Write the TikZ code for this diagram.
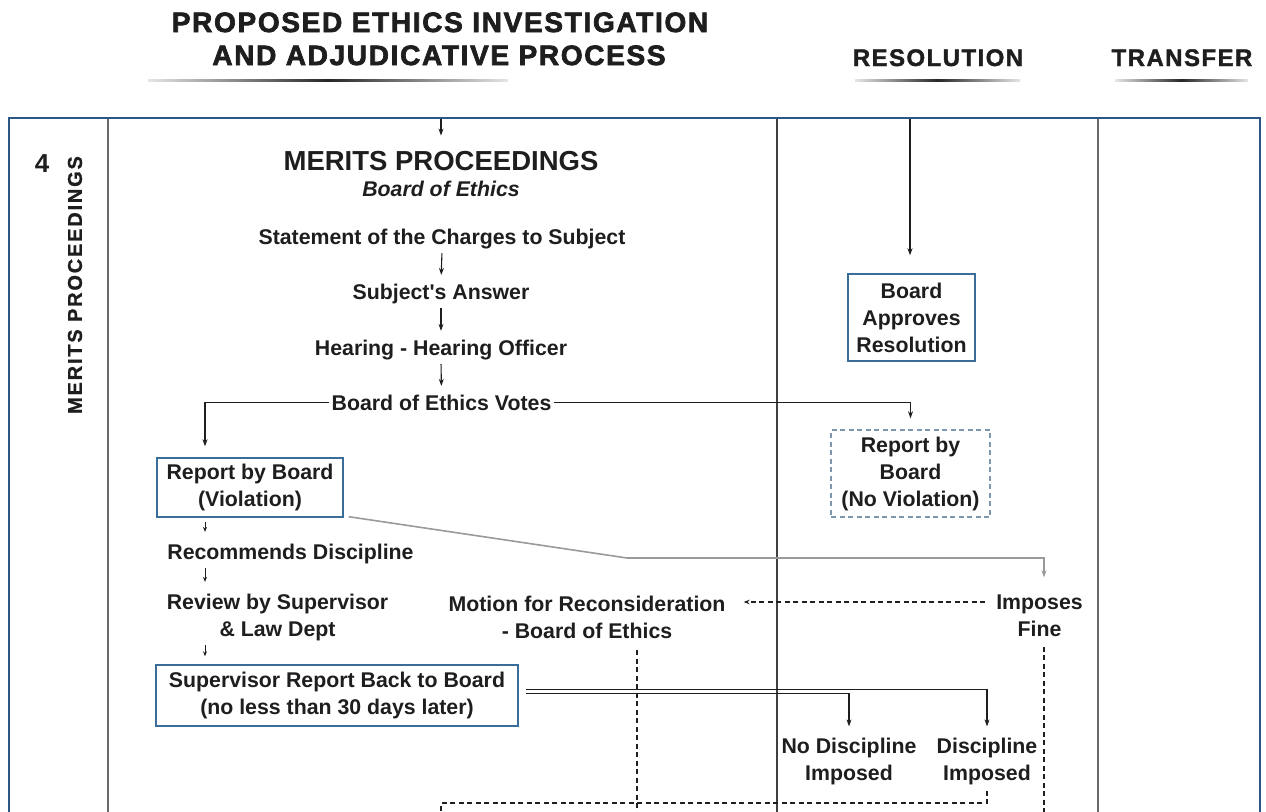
\documentclass[tikz,border=0pt]{standalone}
\usepackage{fontspec}
\setmainfont{Liberation Sans}
\usetikzlibrary{arrows.meta}
\definecolor{frameblue}{HTML}{2C5784}
\definecolor{boxblue}{HTML}{3A6E98}
\definecolor{dashblue}{HTML}{7D97AE}
\definecolor{divgray}{HTML}{6A6A6A}
\definecolor{linegray}{HTML}{9A9A9A}
\definecolor{ink}{HTML}{1E1E1E}
\begin{document}
\begin{tikzpicture}[x=1pt,y=-1pt,
  body/.style={font=\fontsize{21.3}{27}\selectfont\bfseries, text=ink, align=center, inner sep=2pt},
  titletxt/.style={font=\fontsize{28}{33}\selectfont\bfseries\addfontfeature{LetterSpace=6,FakeBold=2.5}, text=ink, inner sep=0pt},
  headtxt/.style={font=\fontsize{24}{28}\selectfont\bfseries\addfontfeature{LetterSpace=6,FakeBold=1.5}, text=ink, inner sep=0pt},
  sidetxt/.style={font=\fontsize{20}{20}\selectfont\bfseries\addfontfeature{LetterSpace=9,FakeBold=1}, text=ink, inner sep=0pt},
  solidbox/.style={body, draw=boxblue, line width=1.4pt},
  dashbox/.style={body, draw=dashblue, line width=1.4pt, dash pattern=on 5pt off 3.5pt},
  arr/.style={-{Stealth[length=7pt,width=5pt]}, line width=1.1pt, draw=ink},
  sarr/.style={-{Stealth[length=5pt,width=4pt]}, line width=0.9pt, draw=ink},
  gline/.style={-{Stealth[length=7pt,width=5pt]}, line width=1.6pt, draw=linegray},
  dline/.style={line width=1.1pt, draw=ink, dash pattern=on 5pt off 3.5pt},
  underl/.style={left color=gray!20, right color=gray!20, middle color=black!85}
]
\useasboundingbox (0,0) rectangle (1266,811);
\fill[white] (0,0) rectangle (1266,811);

% headings
\node[titletxt, anchor=base] (t1) at (440,32) {PROPOSED ETHICS INVESTIGATION};
\node[titletxt, anchor=base] (t2) at (439,65) {AND ADJUDICATIVE PROCESS};
\node[headtxt, anchor=base] (res) at (938,66) {RESOLUTION};
\node[headtxt, anchor=base] (tr) at (1182,66) {TRANSFER};
\shade[underl] (148,79) rectangle (508,81.5);
\shade[underl] (855,79) rectangle (1020,81.5);
\shade[underl] (1115,79) rectangle (1248,81.5);

% frame and lanes
\draw[frameblue, line width=2.2pt] (9,815) -- (9,118) -- (1260,118) -- (1260,815);
\draw[divgray, line width=1.8pt] (108,119) -- (108,815);
\draw[divgray, line width=1.8pt] (1098,119) -- (1098,815);
\draw[ink!85, line width=1.3pt] (777,119) -- (777,815);

\coordinate (topA) at (441,119);
\coordinate (topB) at (910,119);
\coordinate (ax) at (205,0);
\coordinate (fx) at (1044,0);
\coordinate (mx) at (637,0);
\coordinate (l1) at (0,602);
\coordinate (bl) at (0,803);
\coordinate (bottom) at (0,815);
\coordinate (bend) at (627,558);

% lane label
\node[font=\fontsize{26}{26}\selectfont\bfseries, text=ink, anchor=base, inner sep=0pt] (four) at (42,172) {4};
\node[sidetxt, rotate=90] (side) at (75,285) {MERITS PROCEEDINGS};

% main chain
\node[font=\fontsize{27.5}{30}\selectfont\bfseries, text=ink, anchor=base, inner sep=2pt] (mp) at (441,170) {MERITS PROCEEDINGS};
\node[body, anchor=base, font=\fontsize{21.3}{27}\selectfont\bfseries\itshape] (boe) at (441,196.5) {Board of Ethics};
\node[body, anchor=base] (stmt) at (442,244.5) {Statement of the Charges to Subject};
\node[body, anchor=base] (ans) at (441,299.5) {Subject\textquotesingle s Answer};
\node[body, anchor=base] (hear) at (441,355.5) {Hearing - Hearing Officer};
\node[body, anchor=base] (votes) at (441.5,410.5) {Board of Ethics Votes};

\node[solidbox, minimum width=186pt, minimum height=59pt] (rv) at (250,487.5) {Report by Board\\(Violation)};
\node[dashbox, minimum width=159pt, minimum height=87pt] (nv) at (910.5,473.5) {Report by\\Board\\(No Violation)};
\node[solidbox, minimum width=127pt, minimum height=87pt] (ba) at (911.5,317.5) {Board\\Approves\\Resolution};

\node[body, anchor=base] (rec) at (290.5,559.5) {Recommends Discipline};
\node[body] (rev) at (277.5,617.5) {Review by Supervisor\\\& Law Dept};
\node[solidbox, minimum width=362pt, minimum height=61pt] (sup) at (337,695.5) {Supervisor Report Back to Board\\(no less than 30 days later)};

\node[body] (mot) at (587,617.5) {Motion for Reconsideration\\- Board of Ethics};
\node[body] (fine) at (1039.5,615.5) {Imposes\\Fine};
\node[body] (nd) at (849,761) {No Discipline\\Imposed};
\node[body] (di) at (987,761) {Discipline\\Imposed};

% connectors
\draw[arr, shorten >=13pt] (topA) -- (mp.north);
\draw[arr, shorten >=7pt, shorten <=2pt] (stmt.south) -- (ans.north);
\draw[arr, shorten >=7pt, shorten <=2pt] (ans.south) -- (hear.north);
\draw[arr, shorten >=7pt, shorten <=2pt] (hear.south) -- (votes.north);
\draw[arr, shorten >=11pt] (votes.west) -| (ax |- rv.north);
\draw[arr, shorten >=11pt] (votes.east) -| (nv.north);
\draw[arr, shorten >=18pt] (topB) -- (topB |- ba.north);

\draw[sarr, shorten <=4pt, shorten >=10pt] (ax |- rv.south) -- (ax |- rec.north);
\draw[sarr, shorten <=2pt, shorten >=10pt] (ax |- rec.south) -- (ax |- rev.north);
\draw[sarr, shorten <=2pt, shorten >=8pt] (ax |- rev.south) -- (ax |- sup.north);

\draw[gline, shorten >=15pt] ([xshift=5pt,yshift=1pt]rv.south east) -- (bend) -- (bend -| fx) -- (fx |- fine.north);

\draw[arr, shorten >=9pt] ([xshift=7pt,yshift=6pt]sup.east) -| (di.north);
\draw[arr, shorten >=9pt] ([xshift=7pt,yshift=2pt]sup.east) -| (nd.north);

\draw[dline, -{Stealth[length=6pt,width=4.5pt]}] ([xshift=-9pt]fine.west |- l1) -- ([xshift=16pt]mot.east |- l1);
\draw[dline, shorten <=9pt] (mx |- mot.south) -- (mx |- bottom);
\draw[dline, shorten <=8pt] (fx |- fine.south) -- (fx |- bottom);
\draw[dline, shorten <=4pt] (di.south) -- (di.south |- bl) -- (bl -| topA) -- (topA |- bottom);
\end{tikzpicture}
\end{document}
